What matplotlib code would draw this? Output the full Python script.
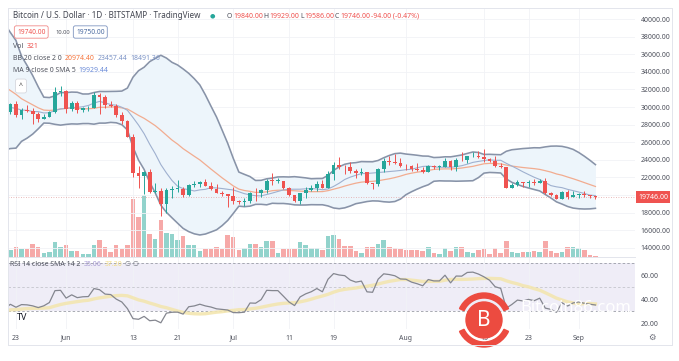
import numpy as np
import pandas as pd
import matplotlib
matplotlib.use("Agg")
import matplotlib.pyplot as plt
from matplotlib.patches import Circle, Wedge
from matplotlib.transforms import IdentityTransform
from matplotlib.lines import Line2D

plt.rcParams['font.family'] = ['Noto Sans', 'DejaVu Sans']

# closes before the first visible candle (needed for BB / RSI warm-up), May 2 - May 21
warmup_close = [38470, 37720, 39690, 36550, 36010, 35470, 34060, 30080, 31000, 29080,
                28940, 29280, 30080, 31320, 29840, 30430, 28690, 30290, 29170, 29430]

# daily candles May 22 - Sep 4
opens = [29430, 30290, 29100, 29650, 29550, 29200, 28600, 28900, 29450, 31730,
         31800, 29800, 30450, 29700, 29860, 29900, 31370, 31130, 30200, 30100,
         29090, 28400, 26580, 22480, 22130, 22580, 20380, 20470, 19000, 20550,
         20700, 20720, 19970, 21100, 21230, 21490, 21030, 20730, 20250, 20100,
         19940, 19280, 19250, 19300, 20230, 20190, 20560, 21630, 21590, 21590,
         20850, 19960, 19330, 20240, 20590, 20830, 21200, 20790, 22430, 23390,
         23230, 23160, 22680, 22450, 22580, 21310, 21250, 22950, 23850, 23770,
         23640, 23300, 23270, 22980, 22820, 22620, 23310, 23180, 23180, 23810,
         23150, 23950, 23940, 24400, 24440, 24300, 24100, 23850, 23340, 23200,
         20830, 21140, 21520, 21400, 21530, 21370, 21560, 20240, 20040, 19560,
         20290, 19800, 20050, 20130, 19950, 19840]
highs = [30480, 30670, 29830, 30200, 29850, 29380, 29200, 29530, 32220, 32380,
         31960, 30660, 30670, 29950, 30170, 31750, 31560, 31320, 30650, 30330,
         29430, 28540, 26880, 23300, 22780, 22970, 21350, 20770, 20800, 21000,
         21700, 20870, 21200, 21550, 21590, 21850, 21520, 21200, 20400, 20170,
         20880, 19420, 19650, 20320, 20740, 20660, 21820, 22500, 21900, 21600,
         20860, 20050, 20250, 20880, 21170, 21560, 21670, 22700, 23750, 24270,
         23400, 23740, 22990, 23030, 22650, 21350, 23100, 24170, 24450, 24650,
         24180, 23500, 23460, 23650, 23220, 23450, 23370, 23440, 24230, 23930,
         24200, 24900, 24450, 24890, 25050, 25200, 24250, 24450, 23600, 23220,
         21380, 21680, 21530, 21650, 21800, 21810, 21880, 20330, 20150, 20410,
         20570, 20480, 20200, 20450, 20050, 19929]
lows = [29230, 28900, 28660, 29380, 28030, 28270, 28580, 28850, 29300, 31200,
        29320, 29580, 29300, 29480, 29500, 29880, 29220, 29850, 29980, 28880,
        28100, 26560, 22000, 20840, 20100, 20250, 20250, 17620, 17950, 19640,
        20380, 19800, 19900, 20940, 20900, 21000, 20540, 20200, 19860, 18630,
        19000, 18990, 18800, 19050, 19310, 19770, 20260, 21160, 21330, 20680,
        19880, 19250, 18930, 19630, 20410, 20490, 20770, 20780, 21700, 23000,
        22350, 22550, 21980, 22270, 21280, 20700, 21050, 22600, 23450, 23500,
        23230, 22850, 22700, 22680, 22460, 22600, 22950, 22890, 23150, 22880,
        22680, 23880, 23600, 24300, 24150, 23770, 23700, 23200, 23100, 20790,
        20800, 21070, 20900, 20900, 21160, 21320, 20150, 19830, 19540, 19550,
        19540, 19800, 19650, 19770, 19650, 19586]
closes = [30290, 29100, 29650, 29550, 29200, 28600, 28900, 29450, 31730, 31800,
          29800, 30450, 29700, 29860, 29900, 31370, 31130, 30200, 30100, 29090,
          28400, 26580, 22480, 22130, 22580, 20380, 20470, 19000, 20550, 20700,
          20720, 19970, 21100, 21230, 21490, 21030, 20730, 20250, 20100, 19940,
          19280, 19250, 19300, 20230, 20190, 20560, 21630, 21590, 21590, 20850,
          19960, 19330, 20240, 20590, 20830, 21200, 20790, 22430, 23390, 23230,
          23160, 22680, 22450, 22580, 21310, 21250, 22950, 23850, 23770, 23640,
          23300, 23270, 22980, 22820, 22620, 23310, 23180, 23180, 23810, 23150,
          23950, 23940, 24400, 24440, 24300, 24100, 23850, 23340, 23200, 20830,
          21140, 21520, 21400, 21530, 21370, 21560, 20240, 20040, 19560, 20290,
          19800, 20050, 20130, 19950, 19840, 19746]
volumes = [2000, 3000, 2400, 2300, 3900, 3000, 1200, 1500, 4500, 3000,
           3600, 1800, 1800, 900, 1000, 3500, 5000, 3000, 1500, 3600,
           2400, 3600, 17400, 12000, 18600, 6900, 5400, 11100, 7200, 6900,
           5100, 6300, 3600, 3600, 1800, 2400, 2400, 3000, 2400, 6600,
           6000, 2100, 2700, 3900, 3900, 3000, 4800, 4800, 1200, 2400,
           2400, 2400, 4500, 3600, 2700, 2700, 2100, 6300, 6600, 5400,
           3300, 3300, 1800, 1200, 3000, 3000, 3900, 5100, 3000, 2700,
           2400, 2100, 2100, 2100, 1800, 3000, 1200, 900, 2700, 1800,
           3000, 3000, 1500, 1200, 2100, 2400, 900, 2700, 1200, 4800,
           1500, 1200, 1500, 1500, 1800, 1500, 4800, 1800, 1200, 1500,
           3000, 3000, 2700, 2100, 600, 321]

date_pos = [1, 10, 22, 30, 40, 50, 58, 71, 85, 93, 102]
date_labels = ['23', 'Jun', '13', '21', 'Jul', '11', '19', 'Aug', '15', '23', 'Sep']
price_ticks = list(range(14000, 40001, 2000))
rsi_ticks = [20, 40, 60]

UP, DOWN = '#26a69a', '#ef5350'
GRID = '#f1f2f6'
TXT = '#50535e'

W, H = 679, 361
fig = plt.figure(figsize=(W / 100, H / 100), dpi=100)


def fx(px):
    return px / W


def fy(py):
    return 1 - py / H


L, R = 8, 635
pane = [fx(L), fy(257), fx(R) - fx(L), fy(8) - fy(257)]
ax_vol = fig.add_axes(pane)
ax = fig.add_axes(pane)
ax_rsi = fig.add_axes([fx(L), fy(329), fx(R) - fx(L), fy(257) - fy(329)])

o = np.array(opens, float)
h = np.array(highs, float)
lo = np.array(lows, float)
c = np.array(closes, float)
v = np.array(volumes, float)
x = np.arange(len(c))
up = c >= o
cols = np.where(up, UP, DOWN)
xlim = (-0.43, 112.1)

# volume overlay
vcols = np.where(up, '#92d3cc', '#f6a9a8')
ax_vol.bar(x, v, width=0.8, color=vcols, linewidth=0)
ax_vol.set_xlim(*xlim)
ax_vol.set_ylim(0, v.max() * 4.0)
ax_vol.axis('off')

# indicators
allc = pd.Series(warmup_close + closes, dtype=float)
n0 = len(warmup_close)
basis = allc.rolling(20).mean()
sd = allc.rolling(20).std(ddof=0)
upper = basis + 2 * sd
lower = basis - 2 * sd
ma9 = allc.rolling(9).mean()
xi = np.arange(len(allc)) - n0
sel = xi >= -1

ax.fill_between(xi[sel], lower[sel], upper[sel], color='#edf5fb', linewidth=0, zorder=1)
ax.plot(xi[sel], upper[sel], color='#8893a8', lw=1.15, zorder=2)
ax.plot(xi[sel], lower[sel], color='#8893a8', lw=1.15, zorder=2)
ax.plot(xi[sel], basis[sel], color='#f2ac90', lw=0.9, zorder=2)
ax.plot(xi[sel], ma9[sel], color='#9fb0cf', lw=0.8, zorder=2)

# candles
ax.vlines(x, lo, h, colors=cols, lw=0.7, zorder=3)
body = np.maximum(np.abs(c - o), 60)
ax.bar(x, body, bottom=np.minimum(o, c), width=0.68, color=cols, linewidth=0, zorder=4)

ax.axhline(c[-1], color='#e2a3a3', lw=0.6, ls=(0, (1, 2)), zorder=2)

ax.set_xlim(*xlim)
ax.set_ylim(12955, 41250)
ax.patch.set_visible(False)
ax.yaxis.tick_right()
ax.set_yticks(price_ticks)
# the last-price tag hides the 20000 label, as on the reference
ax.set_yticklabels(['' if p == 20000 else '%.2f' % p for p in price_ticks])
ax.set_xticks(date_pos)
ax.set_xticklabels([])
ax.tick_params(axis='both', length=0, labelsize=5, colors=TXT, pad=4)
ax.grid(True, color=GRID, lw=0.6)
ax.set_axisbelow(True)
for s in ax.spines.values():
    s.set_visible(False)

ax.annotate('%.2f' % c[-1], xy=(1, c[-1]), xycoords=('axes fraction', 'data'),
            xytext=(2.2, 0), textcoords='offset points', va='center', ha='left',
            fontsize=5, color='white',
            bbox=dict(boxstyle='square,pad=0.35', fc=DOWN, ec='none'))

# RSI 14 (Wilder) and its SMA 14
ch = np.diff(allc.values)
gain = np.clip(ch, 0, None)
loss = np.clip(-ch, 0, None)
ag = np.full(len(ch), np.nan)
al = np.full(len(ch), np.nan)
ag[13], al[13] = gain[:14].mean(), loss[:14].mean()
for j in range(14, len(ch)):
    ag[j] = (ag[j - 1] * 13 + gain[j]) / 14
    al[j] = (al[j - 1] * 13 + loss[j]) / 14
rsi = 100 - 100 / (1 + ag / al)
rsi_ma = pd.Series(rsi).rolling(14, min_periods=1).mean().values
rx = np.arange(len(ch)) + 1 - n0
rs = rx >= -1

ax_rsi.axhspan(30, 70, color='#efedf7', lw=0, zorder=0)
ax_rsi.axhline(70, color='#9a9ca6', lw=0.6, ls=(0, (3, 2.5)), zorder=1)
ax_rsi.axhline(30, color='#9a9ca6', lw=0.6, ls=(0, (3, 2.5)), zorder=1)
ax_rsi.axhline(50, color='#c4c5cd', lw=0.6, ls=(0, (3, 2.5)), zorder=1)
ax_rsi.plot(rx[rs], rsi_ma[rs], color='#f3e6b0', lw=2.4, alpha=0.9, zorder=2)
ax_rsi.plot(rx[rs], rsi[rs], color='#84868f', lw=0.9, zorder=3)
ax_rsi.set_xlim(*xlim)
ax_rsi.set_ylim(15, 75)
ax_rsi.yaxis.tick_right()
ax_rsi.set_yticks(rsi_ticks)
ax_rsi.set_yticklabels(['%.2f' % t for t in rsi_ticks])
ax_rsi.set_xticks(date_pos)
ax_rsi.set_xticklabels(date_labels)
ax_rsi.tick_params(axis='both', length=0, labelsize=5, colors=TXT, pad=4)
ax_rsi.tick_params(axis='x', pad=4)
ax_rsi.grid(True, axis='x', color=GRID, lw=0.6)
ax_rsi.set_axisbelow(True)
for s in ax_rsi.spines.values():
    s.set_visible(False)

# frame lines
for (x0, y0, x1, y1) in [(8, 8, 672, 8), (8, 8, 8, 345), (672, 8, 672, 345),
                         (8, 345, 672, 345), (8, 257, 635, 257)]:
    fig.add_artist(Line2D([fx(x0), fx(x1)], [fy(y0), fy(y1)], color='#e3e5ec', lw=0.7))

# legend texts
renderer = fig.canvas.get_renderer()


def row(x0, y0, pieces, size=5, gap=1.5):
    xx = x0
    for s, col in pieces:
        t = fig.text(fx(xx), fy(y0), s, color=col, fontsize=size, va='center', ha='left')
        xx += t.get_window_extent(renderer=renderer).width + gap
    return xx


fig.text(fx(13), fy(16), 'Bitcoin / U.S. Dollar · 1D · BITSTAMP · TradingView',
         fontsize=5.8, color='#434651', va='center')
fig.text(fx(212), fy(16), '●', fontsize=4.5, color=UP, va='center', ha='center')
row(227, 16, [('O', TXT), ('19840.00', DOWN), ('H', TXT), ('19929.00', DOWN),
              ('L', TXT), ('19586.00', DOWN), ('C', TXT), ('19746.00', DOWN),
              ('-94.00 (-0.47%)', DOWN)], size=5, gap=0.7)

fig.text(fx(17), fy(32), '19740.00', fontsize=4.8, color=DOWN, va='center',
         bbox=dict(boxstyle='round,pad=0.4,rounding_size=0.3', fc='white', ec='#f08a88', lw=0.6))
fig.text(fx(55), fy(32), '10.00', fontsize=4.2, color=TXT, va='center')
fig.text(fx(76), fy(32), '19750.00', fontsize=4.8, color='#4a6aa0', va='center',
         bbox=dict(boxstyle='round,pad=0.4,rounding_size=0.3', fc='white', ec='#7f95c0', lw=0.6))

row(13, 47, [('Vol', TXT), ('321', DOWN)], gap=3)
row(13, 58, [('BB 20 close 2 0', TXT), ('20974.40', '#f5763f'), ('23457.44', '#7b93c6'),
             ('18491.36', '#7b93c6')], gap=3)
row(13, 70, [('MA 9 close 0 SMA 5', TXT), ('19929.44', '#6a8bd8')], gap=3)
fig.text(fx(21), fy(86), '^', fontsize=5, color='#444', va='center', ha='center',
         bbox=dict(boxstyle='round,pad=0.5,rounding_size=0.3', fc='white', ec='#d5d7de', lw=0.6))

row(10, 265, [('RSI 14 close SMA 14 2', TXT), ('35.06', '#a79ad2'), ('37.20', '#f1dc86'),
              ('∅ ∅', '#777a84')], gap=3)
fig.text(fx(17), fy(318), 'TV', fontsize=6.5, fontweight='bold', color='#131722', va='center')
fig.text(fx(652), fy(337), '⚙', fontsize=6, color='#6a6d78', va='center', ha='center',
         family='DejaVu Sans')

# watermark
cx, cy = 484, H - 320
fig.add_artist(Wedge((cx, cy), 27, 25, 155, width=5, color='#ec4b40', transform=IdentityTransform()))
fig.add_artist(Wedge((cx, cy), 27, 205, 335, width=5, color='#ec4b40', transform=IdentityTransform()))
fig.add_artist(Circle((cx, cy), 18, color='#ec4b40', transform=IdentityTransform()))
fig.text(fx(484), fy(320), 'B', fontsize=15, fontweight='bold', color='white',
         va='center', ha='center')
fig.text(fx(520), fy(308), 'Bitcoin86.com', fontsize=12, color='white', va='center', ha='left')

fig.savefig('out.png', dpi=100)
